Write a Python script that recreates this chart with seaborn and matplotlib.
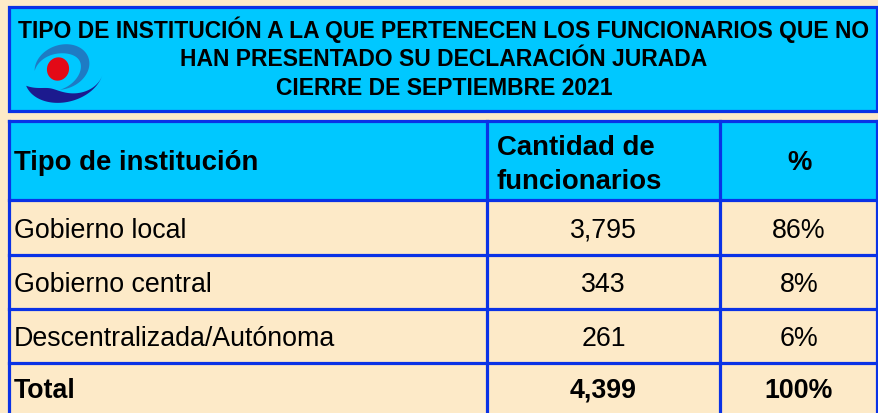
import numpy as np
import matplotlib
matplotlib.use("Agg")
import matplotlib.pyplot as plt
from matplotlib.patches import Rectangle, Polygon, Ellipse
import seaborn as sns

# ---- data ----
title_lines = ["TIPO DE INSTITUCIÓN A LA QUE PERTENECEN LOS FUNCIONARIOS QUE NO",
               "HAN PRESENTADO SU DECLARACIÓN JURADA",
               "CIERRE DE SEPTIEMBRE 2021"]
col_headers = ["Tipo de institución", "Cantidad de\nfuncionarios", "%"]
categories = ["Gobierno local", "Gobierno central", "Descentralizada/Autónoma"]
cantidades = [3795, 343, 261]
porcentajes = [86, 8, 6]
total_label = "Total"
total_cantidad = 4399
total_pct = 100

sns.set_theme(style="white")
plt.rcParams['font.family'] = ['Liberation Sans', 'DejaVu Sans']
plt.rcParams['text.color'] = 'black'

CYAN = "#00C8FF"
BLUE = "#0A32E6"
BEIGE = "#FDEAC8"

W, H = 879, 414
fig = plt.figure(figsize=(W / 100, H / 100), dpi=100)
fig.patch.set_facecolor(BEIGE)
ax = fig.add_axes([0, 0, 1, 1])
ax.set_xlim(0, W)
ax.set_ylim(H, 0)
ax.axis("off")
ax.set_facecolor(BEIGE)

lw = 2.3
x_left, x_c1, x_c2, x_right = 9.5, 487, 720, 877.5

# title box
ax.add_patch(Rectangle((x_left, 8), x_right - x_left, 111.5 - 8, facecolor=CYAN,
                       edgecolor=BLUE, linewidth=lw, zorder=1))
ty = [29.5, 59, 88.5]
for s, y in zip(title_lines, ty):
    ax.text(444, y, s, ha="center", va="center", fontsize=16.5, fontweight="bold",
            color="black", zorder=3)

# logo
def crescent(cx, cy, a, b, rot, t0, t1, wmax, peak=0.5, n=100):
    t = np.linspace(np.radians(t0), np.radians(t1), n)
    u = (t - t[0]) / (t[-1] - t[0])
    w = wmax * np.clip(np.sin(np.pi * u ** (np.log(0.5) / np.log(peak))), 0, None)
    r = np.radians(rot)
    def pts(aa, bb):
        x = aa * np.cos(t)
        y = bb * np.sin(t)
        return np.column_stack([cx + x * np.cos(r) - y * np.sin(r),
                                cy + x * np.sin(r) + y * np.cos(r)])
    outer = pts(a, b)
    inner = pts(a - w, b - w)
    return np.vstack([outer, inner[::-1]])

ax.add_patch(Polygon(crescent(62, 68, 28, 22, -20, 195, 470, 10, peak=0.49),
                     closed=True, facecolor="#1E7BC4", edgecolor="none", zorder=2))
ax.add_patch(Polygon(crescent(64, 74, 40, 29, -15, 25, 175, 14, peak=0.7),
                     closed=True, facecolor="#1C1A8E", edgecolor="none", zorder=2))
ax.add_patch(Ellipse((58, 70), 22, 23.5, angle=20, facecolor="#E30A17",
                     edgecolor="none", zorder=3))

# header row
y_head_top, y_head_bot = 122, 201
ax.add_patch(Rectangle((x_left, y_head_top), x_right - x_left, y_head_bot - y_head_top,
                       facecolor=CYAN, edgecolor="none", zorder=1))
hfs = 19.8
ax.text(14, 163, col_headers[0], ha="left", va="center", fontsize=hfs,
        fontweight="bold", zorder=3)
ax.text(497, 165, col_headers[1], ha="left", va="center", fontsize=hfs,
        fontweight="bold", linespacing=1.38, zorder=3)
ax.text(800, 163, col_headers[2], ha="center", va="center", fontsize=hfs,
        fontweight="bold", zorder=3)

# body rows
fs = 19.3
row_lines = [201, 256, 310, 364]
row_centers = [231, 285.5, 339.5]
for cat, q, p, yc in zip(categories, cantidades, porcentajes, row_centers):
    ax.text(14, yc, cat, ha="left", va="center", fontsize=fs, zorder=3)
    ax.text(603.5, yc, f"{q:,}", ha="center", va="center", fontsize=fs, zorder=3)
    ax.text(799, yc, f"{p}%", ha="center", va="center", fontsize=fs, zorder=3)

yt = 391
ax.text(14, yt, total_label, ha="left", va="center", fontsize=fs, fontweight="bold", zorder=3)
ax.text(603.5, yt, f"{total_cantidad:,}", ha="center", va="center", fontsize=fs,
        fontweight="bold", zorder=3)
ax.text(799, yt, f"{total_pct}%", ha="center", va="center", fontsize=fs,
        fontweight="bold", zorder=3)

# grid lines
ax.plot([x_left, x_right], [y_head_top, y_head_top], color=BLUE, lw=lw, zorder=4,
        solid_capstyle="projecting")
for y in row_lines:
    ax.plot([x_left, x_right], [y, y], color=BLUE, lw=lw, zorder=4,
            solid_capstyle="projecting")
for x in [x_left, x_c1, x_c2, x_right]:
    ax.plot([x, x], [y_head_top, H + 5], color=BLUE, lw=lw, zorder=4,
            solid_capstyle="projecting")

fig.savefig("out.png", dpi=100, facecolor=BEIGE)
